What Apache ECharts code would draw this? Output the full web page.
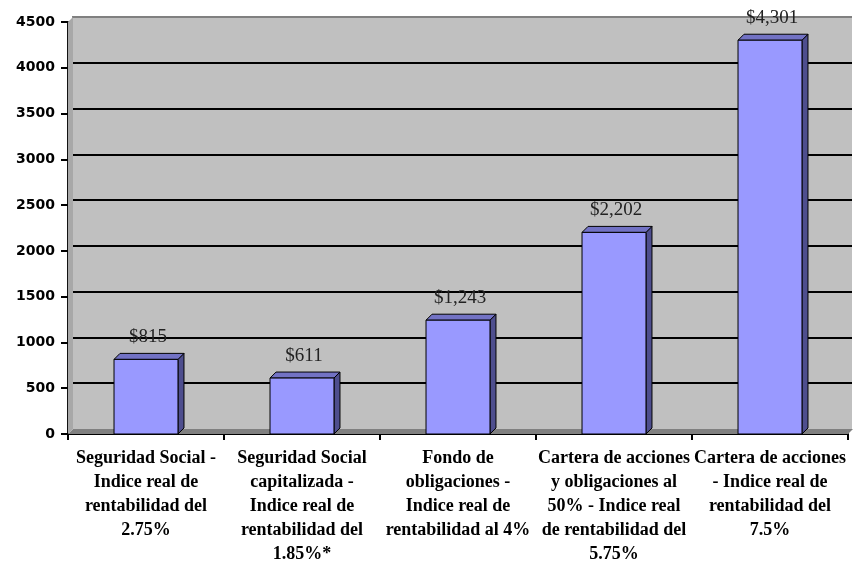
<!DOCTYPE html>
<html>
<head>
<meta charset="utf-8">
<script src="https://cdn.jsdelivr.net/npm/echarts@6/dist/echarts.min.js"></script>
<style>
html,body{margin:0;padding:0;background:#fff;}
#c{width:854px;height:576px;}
</style>
</head>
<body>
<div id="c"></div>
<script>
const categories = [
  "Seguridad Social -\nIndice real de\nrentabilidad del\n2.75%",
  "Seguridad Social\ncapitalizada -\nIndice real de\nrentabilidad del\n1.85%*",
  "Fondo de\nobligaciones -\nIndice real de\nrentabilidad al 4%",
  "Cartera de acciones\ny obligaciones al\n50% - Indice real\nde rentabilidad del\n5.75%",
  "Cartera de acciones\n- Indice real de\nrentabilidad del\n7.5%"
];
const values = [815, 611, 1243, 2202, 4301];
const yMin = 0, yMax = 4500, yStep = 500;

// layout constants
const FL = 68, FR = 6, FT = 22, FB = 142;   // front plane grid
const D = 5;                                 // 3D depth offset (px)
const W = 854, H = 576;

const chart = echarts.init(document.getElementById('c'), null, {renderer: 'canvas'});

function fmt(v){ return '$' + v.toLocaleString('en-US'); }

const splitColors = [];
for (let v = yMin; v <= yMax; v += yStep) {
  splitColors.push(v === yMin ? 'rgba(0,0,0,0)' : (v === yMax ? '#808080' : '#000000'));
}

const option = {
  backgroundColor: '#ffffff',
  animation: false,
  grid: [
    { left: FL + D - 1, right: FR - D + 1, top: FT - D, bottom: FB + D, show: true, backgroundColor: '#C0C0C0', borderWidth: 0 },
    { left: FL, right: FR, top: FT, bottom: FB }
  ],
  xAxis: [
    { type: 'category', gridIndex: 0, data: categories, show: false },
    {
      type: 'category', gridIndex: 1, data: categories,
      axisLine: { lineStyle: { color: '#000', width: 2 } },
      axisTick: { show: true, length: 6, lineStyle: { color: '#000', width: 2 } },
      axisLabel: {
        interval: 0, margin: 12, color: '#000',
        fontFamily: 'Liberation Serif', fontWeight: 'bold', fontSize: 18, lineHeight: 24
      }
    }
  ],
  yAxis: [
    {
      type: 'value', gridIndex: 0, min: yMin, max: yMax, interval: yStep,
      axisLine: { show: false }, axisTick: { show: false }, axisLabel: { show: false },
      splitLine: { show: true, lineStyle: { color: splitColors, width: 2 } }
    },
    {
      type: 'value', gridIndex: 1, min: yMin, max: yMax, interval: yStep,
      axisLine: { show: true, lineStyle: { color: '#111', width: 2 } },
      axisTick: { show: true, length: 7, lineStyle: { color: '#000', width: 2 } },
      axisLabel: { margin: 13, color: '#000', fontFamily: 'DejaVu Sans', fontWeight: 'bold', fontSize: 14,
        formatter: function (v) { return String(v); } },
      splitLine: { show: false }
    }
  ],
  graphic: [
    { type: 'polygon', z: 1, silent: true,
      shape: { points: [[FL, H - FB], [FL + D, H - FB - D], [W - FR + D, H - FB - D], [W - FR, H - FB]] },
      style: { fill: '#808080' } },
    { type: 'polygon', z: 1, silent: true,
      shape: { points: [[FL, H - FB], [FL, FT], [FL + D, FT - D], [FL + D, H - FB - D]] },
      style: { fill: '#A8A8A8' } }
  ],
  series: [{
    type: 'custom',
    xAxisIndex: 1, yAxisIndex: 1,
    z: 5,
    data: values.map((v, i) => [i, v]),
    renderItem: function (params, api) {
      const i = api.value(0), v = api.value(1);
      const top = api.coord([i, v]);
      const base = api.coord([i, 0]);
      const bw = api.size([1, 0])[0] * 0.41;
      const d = 6;
      const x0 = top[0] - bw / 2, y0 = top[1], y1 = base[1];
      return {
        type: 'group',
        children: [
          { type: 'polygon', shape: { points: [[x0 + bw, y0], [x0 + bw + d, y0 - d], [x0 + bw + d, y1 - d], [x0 + bw, y1]] },
            style: { fill: '#4E4E8E', stroke: '#000', lineWidth: 1 } },
          { type: 'polygon', shape: { points: [[x0, y0], [x0 + d, y0 - d], [x0 + bw + d, y0 - d], [x0 + bw, y0]] },
            style: { fill: '#7272C4', stroke: '#000', lineWidth: 1 } },
          { type: 'rect', shape: { x: x0, y: y0, width: bw, height: y1 - y0 },
            style: { fill: '#9999FF', stroke: '#000', lineWidth: 1 } },
          { type: 'text', x: top[0] + 2, y: y0 - 22,
            style: { text: fmt(v), fill: '#222', font: '19px "Liberation Serif"', textAlign: 'center', textVerticalAlign: 'middle' } }
        ]
      };
    }
  }]
};
chart.setOption(option);
</script>
</body>
</html>
